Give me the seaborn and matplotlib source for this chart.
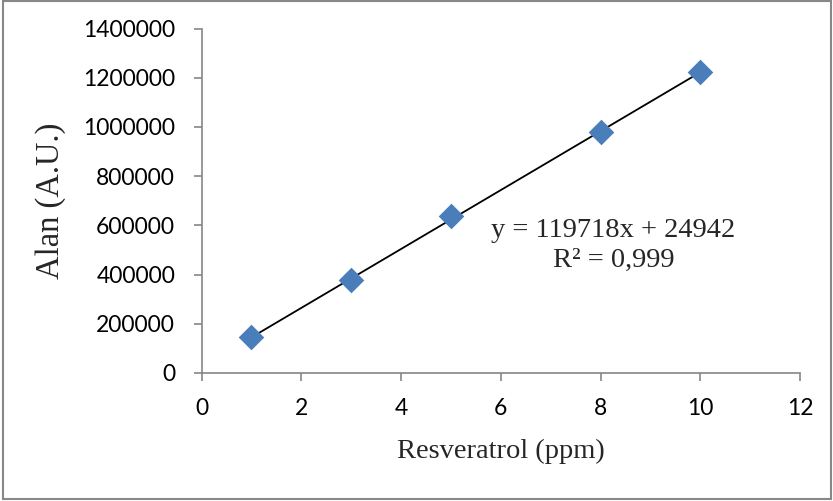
import matplotlib
matplotlib.use("Agg")
import matplotlib.pyplot as plt
import seaborn as sns
import pandas as pd
import numpy as np
from matplotlib.patches import Rectangle

# Calibration data
concentration = [1, 3, 5, 8, 10]
area = [145000, 378000, 638000, 980000, 1222000]

# Linear trendline parameters
slope = 119718
intercept = 24942
r_squared = "0,999"

x_ticks = [0, 2, 4, 6, 8, 10, 12]
y_ticks = [0, 200000, 400000, 600000, 800000, 1000000, 1200000, 1400000]

df = pd.DataFrame({"Resveratrol (ppm)": concentration, "Alan (A.U.)": area})

sns.set_theme(style="white")
plt.rcParams["font.family"] = ["Lato", "DejaVu Sans"]

fig = plt.figure(figsize=(8.33, 5.01), dpi=100)
ax = fig.add_axes([0.2419, 0.2555, 0.9604 - 0.2419, 0.9431 - 0.2555])

# Trendline across the measured range
fit_x = np.array([min(concentration), max(concentration)])
fit_df = pd.DataFrame({"x": fit_x, "y": slope * fit_x + intercept})
sns.lineplot(data=fit_df, x="x", y="y", ax=ax, color="black", linewidth=1.3, zorder=2)

sns.scatterplot(data=df, x="Resveratrol (ppm)", y="Alan (A.U.)", ax=ax,
                marker="D", s=170, color="#4A7EBB", edgecolor="#4A7EBB",
                linewidth=0, zorder=3)

ax.set_xlim(0, 12)
ax.set_ylim(0, 1400000)
ax.set_xticks(x_ticks)
ax.set_yticks(y_ticks)
ax.set_xticklabels([str(v) for v in x_ticks])
ax.set_yticklabels([str(v) for v in y_ticks])

for side in ["top", "right"]:
    ax.spines[side].set_visible(False)
for side in ["left", "bottom"]:
    ax.spines[side].set_color("#868686")
    ax.spines[side].set_linewidth(1.2)

ax.tick_params(axis="both", which="major", direction="out", length=6, width=1.2,
               color="#868686", labelsize=16.5, labelcolor="black",
               left=True, bottom=True)
ax.tick_params(axis="y", pad=13)
ax.tick_params(axis="x", pad=12)

serif = ["Liberation Serif", "DejaVu Serif"]
ax.set_xlabel("Resveratrol (ppm)", fontsize=20.5, family=serif, labelpad=14)
ax.set_ylabel("Alan (A.U.)", fontsize=23.5, family=serif, labelpad=12)

# Regression equation and coefficient of determination
ax.text(8.25, 578000, f"y = {slope}x + {intercept}", fontsize=20.5, family=serif,
        ha="center", va="center")
ax.text(8.27, 458000, f"R² = {r_squared}", fontsize=20.5, family=serif,
        ha="center", va="center")

# Outer chart border
fig.patches.append(Rectangle((0.004, 0.004), 0.994, 0.994, transform=fig.transFigure,
                             fill=False, edgecolor="#888888", linewidth=1.5))

fig.savefig("out.png", dpi=100)
